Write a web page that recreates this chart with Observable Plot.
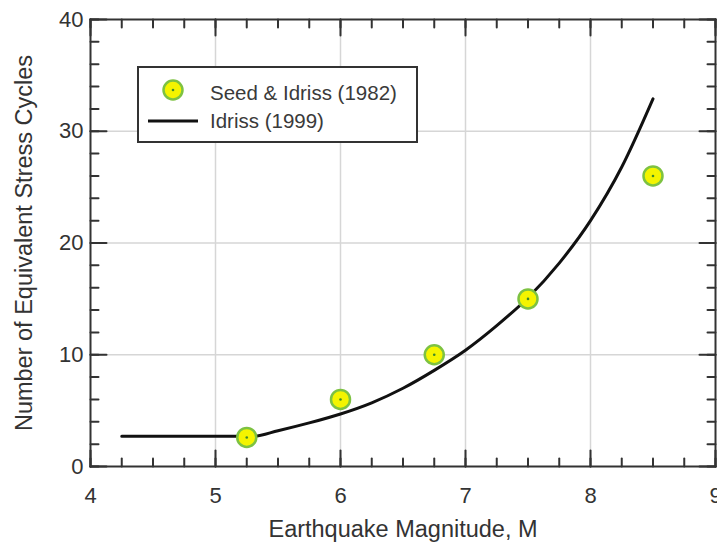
<!DOCTYPE html>
<html><head><meta charset="utf-8">
<script src="https://cdn.jsdelivr.net/npm/d3@7"></script>
<script src="https://cdn.jsdelivr.net/npm/@observablehq/plot@0.6"></script>
<style>
body{margin:0;background:#fff;}
#wrap{position:relative;width:717px;height:544px;overflow:hidden;}
#legend{position:absolute;left:137px;top:66px;}
</style></head><body><div id="wrap"></div>
<script>
// Seed & Idriss (1982) points
const seedMagnitudes = [5.25, 6.0, 6.75, 7.5, 8.5];
const seedCycles = [2.6, 6.0, 10.0, 15.0, 26.0];
// Idriss (1999) curve
const idrissMagnitudes = [4.25, 4.75, 5.0, 5.3, 5.5, 5.75, 6.0, 6.25, 6.5, 6.75, 7.0, 7.25, 7.5, 7.75, 8.0, 8.25, 8.5];
const idrissCycles = [2.7, 2.7, 2.7, 2.7, 3.2, 3.9, 4.7, 5.7, 7.0, 8.6, 10.4, 12.6, 15.1, 18.2, 22.0, 26.8, 32.9];
const seriesNames = ["Seed & Idriss (1982)", "Idriss (1999)"];
const xMajorTicks = [4, 5, 6, 7, 8, 9];
const xMinorTicks = d3.range(4, 9.001, 0.25);
const yMajorTicks = [0, 10, 20, 30, 40];
const yMinorTicks = d3.range(0, 40.001, 2);
const xGrid = [5, 6, 7, 8];
const yGrid = [10, 20, 30];
const xTitle = "Earthquake Magnitude, M";
const yTitle = "Number of Equivalent Stress Cycles";

const seed = seedMagnitudes.map((m, i) => ({m, n: seedCycles[i]}));
const idriss = idrissMagnitudes.map((m, i) => ({m, n: idrissCycles[i]}));

const ink = "#333";
const font = "Liberation Sans, Arial, sans-serif";
const tickShape = {draw(context, l) { context.moveTo(0, 0); context.lineTo(0, -l); }};
const tickStyle = {shape: tickShape, anchor: "start", stroke: ink, strokeWidth: 2};

const chart = Plot.plot({
  width: 717,
  height: 544,
  marginLeft: 90,
  marginRight: 2,
  marginTop: 19,
  marginBottom: 78,
  style: {fontFamily: font, fontSize: "22px", color: ink, background: "white", overflow: "visible"},
  x: {domain: [4, 9]},
  y: {domain: [0, 40]},
  marks: [
    Plot.gridX(xGrid, {stroke: "#d6d6d6", strokeOpacity: 1, strokeWidth: 1.5}),
    Plot.gridY(yGrid, {stroke: "#d6d6d6", strokeOpacity: 1, strokeWidth: 1.5}),
    // inward ticks, all four sides
    Plot.vectorX(xMajorTicks, {frameAnchor: "bottom", length: 16, rotate: 0, ...tickStyle}),
    Plot.vectorX(xMinorTicks, {frameAnchor: "bottom", length: 8, rotate: 0, ...tickStyle}),
    Plot.vectorX(xMajorTicks, {frameAnchor: "top", length: 16, rotate: 180, ...tickStyle}),
    Plot.vectorX(xMinorTicks, {frameAnchor: "top", length: 8, rotate: 180, ...tickStyle}),
    Plot.vectorY(yMajorTicks, {frameAnchor: "left", length: 16, rotate: 90, ...tickStyle}),
    Plot.vectorY(yMinorTicks, {frameAnchor: "left", length: 8, rotate: 90, ...tickStyle}),
    Plot.vectorY(yMajorTicks, {frameAnchor: "right", length: 16, rotate: -90, ...tickStyle}),
    Plot.vectorY(yMinorTicks, {frameAnchor: "right", length: 8, rotate: -90, ...tickStyle}),
    // tick labels
    Plot.axisX(xMajorTicks, {anchor: "bottom", tickSize: 0, tickPadding: 21, label: null, fill: ink, tickFormat: d3.format("d")}),
    Plot.axisY(yMajorTicks, {anchor: "left", tickSize: 0, tickPadding: 7, label: null, fill: ink, tickFormat: d3.format("d")}),
    // axis titles
    Plot.text([xTitle], {frameAnchor: "bottom", dy: 70, lineAnchor: "bottom", textAnchor: "middle", fontSize: 23.5, fill: ink}),
    Plot.text([yTitle], {frameAnchor: "left", dx: -66, rotate: -90, lineAnchor: "middle", textAnchor: "middle", fontSize: 23.5, fill: ink}),
    Plot.frame({stroke: ink, strokeWidth: 2}),
    // data
    Plot.line(idriss, {x: "m", y: "n", curve: "monotone-x", stroke: "#111", strokeWidth: 3}),
    Plot.dot(seed, {x: "m", y: "n", r: 9.5, fill: "#f4f400", stroke: "#7dc242", strokeWidth: 2.5}),
    Plot.dot(seed, {x: "m", y: "n", r: 1.3, fill: "#3d8a2a", stroke: "none"})
  ]
});

const wrap = document.getElementById("wrap");
wrap.appendChild(chart);

// legend
const lg = d3.create("svg").attr("id", "legend").attr("width", 282).attr("height", 78)
  .style("font-family", font);
lg.append("rect").attr("x", 1).attr("y", 1).attr("width", 279).attr("height", 75)
  .attr("fill", "white").attr("stroke", ink).attr("stroke-width", 2);
lg.append("circle").attr("cx", 36).attr("cy", 24).attr("r", 9.5)
  .attr("fill", "#f4f400").attr("stroke", "#7dc242").attr("stroke-width", 2.5);
lg.append("circle").attr("cx", 36).attr("cy", 24).attr("r", 1.3).attr("fill", "#3d8a2a");
lg.append("line").attr("x1", 11).attr("x2", 61).attr("y1", 55).attr("y2", 55)
  .attr("stroke", "#111").attr("stroke-width", 3);
lg.selectAll("text.lab").data(seriesNames).join("text")
  .attr("class", "lab")
  .attr("x", 73).attr("y", (d, i) => i === 0 ? 26 : 54)
  .attr("dominant-baseline", "central")
  .attr("font-size", 20.5).attr("fill", "#3a3a3a")
  .text(d => d);
wrap.appendChild(lg.node());
</script>
</body></html>
